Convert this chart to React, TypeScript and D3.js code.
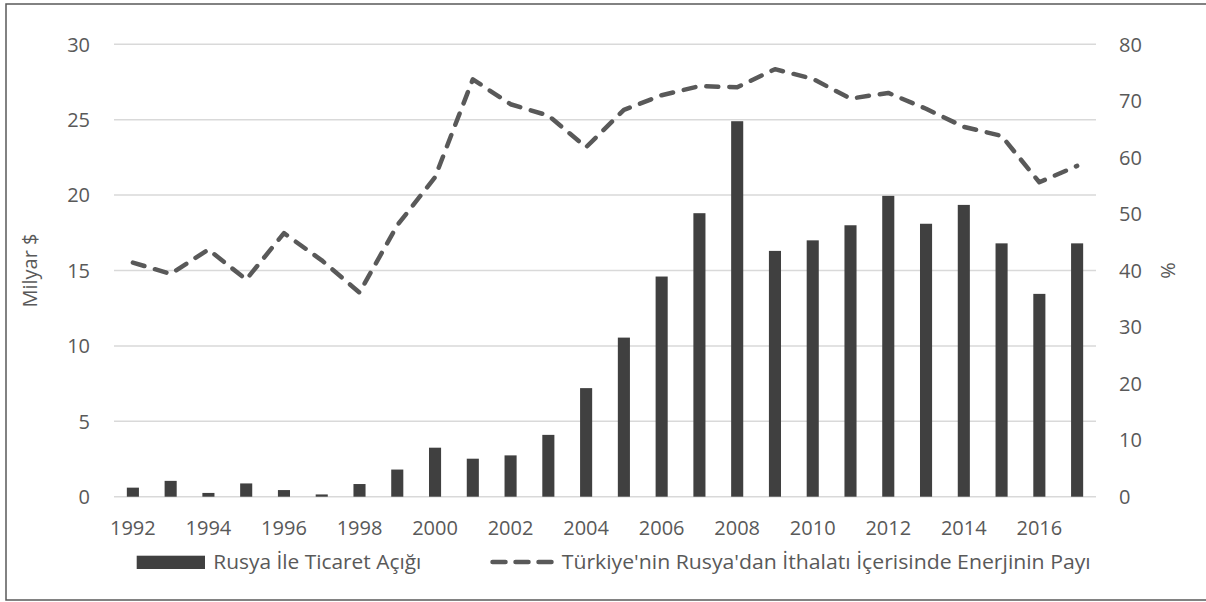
import * as d3 from 'd3';

// Years on the category axis
const years = [
  1992, 1993, 1994, 1995, 1996, 1997, 1998, 1999, 2000, 2001, 2002, 2003, 2004,
  2005, 2006, 2007, 2008, 2009, 2010, 2011, 2012, 2013, 2014, 2015, 2016, 2017,
];

// Rusya ile ticaret açığı (milyar $) - left axis
const tradeDeficit = [
  0.6, 1.05, 0.25, 0.88, 0.44, 0.15, 0.84, 1.8, 3.25, 2.52, 2.74, 4.1, 7.2,
  10.55, 14.6, 18.8, 24.9, 16.3, 17.0, 18.0, 19.95, 18.1, 19.35, 16.8, 13.45, 16.8,
];

// Enerjinin payı (%) - right axis
const energyShare = [
  41.4, 39.4, 43.7, 38.4, 46.6, 41.8, 36.1, 48.0, 56.5, 73.8, 69.4, 67.4, 61.8,
  68.4, 71.0, 72.6, 72.4, 75.6, 73.9, 70.4, 71.4, 68.6, 65.4, 63.8, 55.6, 58.5,
];

const leftTicks = [0, 5, 10, 15, 20, 25, 30];
const rightTicks = [0, 10, 20, 30, 40, 50, 60, 70, 80];
const xLabelYears = years.filter((y) => y % 2 === 0);

const barLabel = 'Rusya İle Ticaret Açığı';
const lineLabel = "Türkiye'nin Rusya'dan İthalatı İçerisinde Enerjinin Payı";

const W = 1206;
const H = 602;
const plot = { left: 114, right: 1096, top: 44.3, bottom: 496.7 };
const font = "'Open Sans', sans-serif";
const fs = 20;
const textColor = '#595959';
const dash = '12,11';

export default function App() {
  const x = d3
    .scaleBand<number>()
    .domain(years)
    .range([plot.left, plot.right])
    .paddingInner(0.68)
    .paddingOuter(0.34);

  const yLeft = d3.scaleLinear().domain([0, 30]).range([plot.bottom, plot.top]);
  const yRight = d3.scaleLinear().domain([0, 80]).range([plot.bottom, plot.top]);

  const cx = (yr: number) => (x(yr) as number) + x.bandwidth() / 2;

  const line = d3
    .line<number>()
    .x((_, i) => cx(years[i]))
    .y((d) => yRight(d));

  return (
    <div style={{ position: 'absolute', left: 0, top: 0 }}>
      <style>{`body{margin:0}`}</style>
      <svg width={W} height={H} style={{ display: 'block', background: '#fff' }}>
        {/* chart border */}
        <rect x={6} y={4} width={1205} height={596} fill="none" stroke="#595959" strokeWidth={1.5} />

        {/* gridlines */}
        {leftTicks.map((t) => (
          <line
            key={t}
            x1={plot.left}
            x2={plot.right}
            y1={yLeft(t)}
            y2={yLeft(t)}
            stroke="#d9d9d9"
            strokeWidth={1.5}
          />
        ))}

        {/* bars */}
        {tradeDeficit.map((v, i) => (
          <rect
            key={years[i]}
            x={x(years[i])}
            y={yLeft(v)}
            width={x.bandwidth()}
            height={yLeft(0) - yLeft(v)}
            fill="#404040"
          />
        ))}

        {/* dashed line */}
        <path
          d={line(energyShare) ?? ''}
          fill="none"
          stroke="#595959"
          strokeWidth={4.5}
          strokeDasharray={dash}
          strokeLinecap="round"
          strokeLinejoin="round"
        />

        {/* left axis labels */}
        {leftTicks.map((t) => (
          <text
            key={t}
            x={90}
            y={yLeft(t)}
            dy="0.36em"
            textAnchor="end"
            fontFamily={font}
            fontSize={fs}
            fill={textColor}
          >
            {t}
          </text>
        ))}

        {/* right axis labels */}
        {rightTicks.map((t) => (
          <text
            key={t}
            x={1119}
            y={yRight(t)}
            dy="0.36em"
            textAnchor="start"
            fontFamily={font}
            fontSize={fs}
            fill={textColor}
          >
            {t}
          </text>
        ))}

        {/* x axis labels */}
        {xLabelYears.map((yr) => (
          <text
            key={yr}
            x={cx(yr)}
            y={535}
            textAnchor="middle"
            fontFamily={font}
            fontSize={fs}
            fill={textColor}
          >
            {yr}
          </text>
        ))}

        {/* axis titles */}
        <text
          transform={`translate(30,${(plot.top + plot.bottom) / 2}) rotate(-90)`}
          dy="0.36em"
          textAnchor="middle"
          fontFamily={font}
          fontSize={fs}
          fill={textColor}
        >
          Milyar $
        </text>
        <text
          transform={`translate(1168,${(plot.top + plot.bottom) / 2}) rotate(90)`}
          dy="0.36em"
          textAnchor="middle"
          fontFamily={font}
          fontSize={fs}
          fill={textColor}
        >
          %
        </text>

        {/* legend */}
        <rect x={136.7} y={555.7} width={68.3} height={13.3} fill="#404040" />
        <text
          x={213.3}
          y={569}
          fontFamily={font}
          fontSize={fs}
          fill={textColor}
          textLength={208}
          lengthAdjust="spacingAndGlyphs"
        >
          {barLabel}
        </text>
        <line
          x1={492.5}
          x2={553}
          y1={562}
          y2={562}
          stroke="#595959"
          strokeWidth={4.5}
          strokeDasharray="13,10"
          strokeLinecap="round"
        />
        <text
          x={561.7}
          y={569}
          fontFamily={font}
          fontSize={fs}
          fill={textColor}
          textLength={529}
          lengthAdjust="spacingAndGlyphs"
        >
          {lineLabel}
        </text>
      </svg>
    </div>
  );
}
